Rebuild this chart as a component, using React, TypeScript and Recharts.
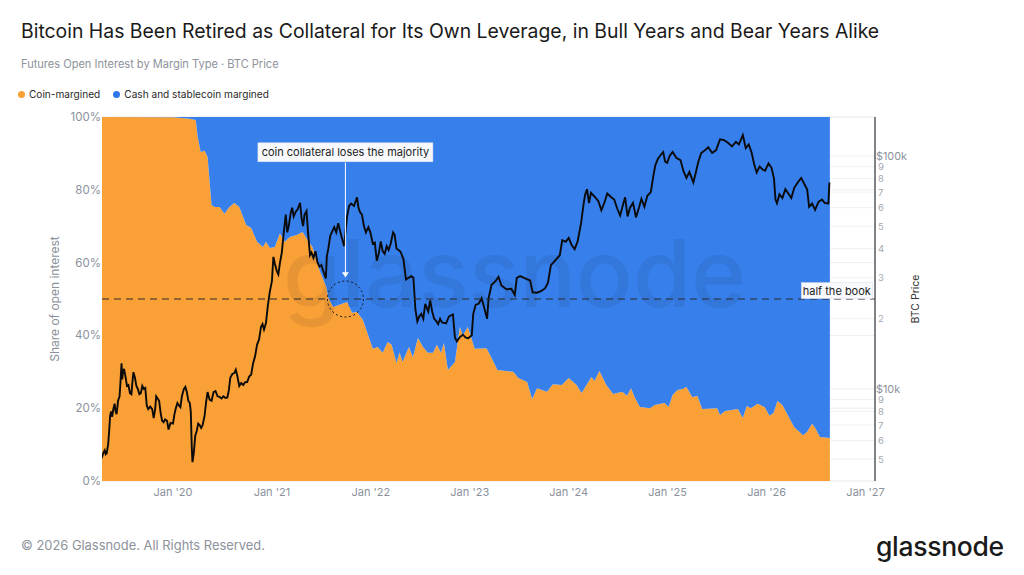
import { ComposedChart, Area, Line, XAxis, YAxis, CartesianGrid, ReferenceLine, ReferenceDot } from 'recharts';

const FONT = 'Inter, sans-serif';

// [year, coin-margined share in %]
const coinEarly = [[2019.28,100],[2020.0,99.9],[2020.17,99.5],[2020.23,99.2],[2020.25,94.5],[2020.28,90.4],[2020.32,90.7],[2020.35,89],[2020.39,75.8],[2020.42,75.3],[2020.47,75.3],[2020.52,73.4],[2020.57,75.3],[2020.62,76.4],[2020.67,75.3],[2020.74,70.3],[2020.79,69.5],[2020.85,65.7],[2020.91,64.3],[2020.94,65.7],[2020.98,64]];
const coin2021 = [[2021.03,64.3],[2021.08,68],[2021.13,65.7],[2021.18,67],[2021.25,67.6],[2021.31,68.4],[2021.36,66.2],[2021.41,64.3],[2021.48,58],[2021.55,53.3],[2021.57,50.3],[2021.62,47.8],[2021.76,49.2],[2021.81,46.2],[2021.86,46.4],[2021.92,44.2]];
const coin2022 = [[2022.02,36.3],[2022.07,36.8],[2022.12,35.2],[2022.17,38.2],[2022.21,37.4],[2022.26,32.4],[2022.29,35.4],[2022.32,32.7],[2022.385,36.8],[2022.425,34],[2022.476,39.3],[2022.527,36.8],[2022.577,35.2],[2022.628,35.2],[2022.668,37.4],[2022.708,35.2],[2022.739,37.9],[2022.779,30.5],[2022.85,32.7],[2022.9,42.3],[2022.93,40],[2022.98,42.3]];
const coin2023 = [[2023.05,36.3],[2023.17,36.5],[2023.22,33.8],[2023.28,30.5],[2023.44,30],[2023.49,28.3],[2023.58,27.2],[2023.63,22.5],[2023.68,25.5],[2023.78,24.5],[2023.84,26.6],[2023.93,26.4]];
const coin2024 = [[2024.0,28.3],[2024.08,26.4],[2024.13,24.2],[2024.23,28.6],[2024.26,27.5],[2024.31,30.2],[2024.38,26.4],[2024.45,23.9],[2024.54,24.5],[2024.59,23.4],[2024.63,25.5],[2024.67,22.8],[2024.72,20.3],[2024.82,20],[2024.87,20.9],[2024.97,21.4]];
const coin2025 = [[2025.01,20.3],[2025.05,23.6],[2025.1,25],[2025.15,25.3],[2025.19,25.8],[2025.25,23],[2025.3,23.4],[2025.35,19.8],[2025.5,20],[2025.53,18.1],[2025.58,19.2],[2025.71,19.8],[2025.76,17.3],[2025.8,20.6],[2025.84,20],[2025.91,21.2],[2025.98,20.3]];
const coin2026 = [[2026.03,17.9],[2026.07,18.7],[2026.11,22],[2026.16,20.9],[2026.23,17.3],[2026.28,14.8],[2026.37,12.6],[2026.41,13.5],[2026.46,15.7],[2026.49,14.6],[2026.54,12.1],[2026.64,11.8]];

// [year, BTC price in USD]
const price2019 = [[2019.28,5050],[2019.295,5300],[2019.31,5450],[2019.32,5250],[2019.33,5300],[2019.345,5800],[2019.355,6600],[2019.365,7700],[2019.375,8000],[2019.385,7600],[2019.395,8100],[2019.41,8650],[2019.42,8000],[2019.43,7800],[2019.445,8900],[2019.46,9300],[2019.47,10800],[2019.48,12900],[2019.487,11000],[2019.495,11800],[2019.505,12200],[2019.52,11300],[2019.535,10300],[2019.55,10400],[2019.565,9600],[2019.58,9500],[2019.59,10700],[2019.6,11800],[2019.615,11200],[2019.63,10300],[2019.645,10000],[2019.66,9500],[2019.675,9600],[2019.69,10300],[2019.705,10000],[2019.72,10100],[2019.735,8500],[2019.75,8200],[2019.77,8400],[2019.79,8200],[2019.805,7500],[2019.82,8200],[2019.83,9300],[2019.845,9100],[2019.86,8900],[2019.875,7900],[2019.89,7300],[2019.905,7200],[2019.92,7400],[2019.94,7300],[2019.955,6700],[2019.975,7150]];
const price2020 = [[2020.0,7100],[2020.015,7800],[2020.03,8300],[2020.045,8700],[2020.06,8500],[2020.075,8350],[2020.09,9300],[2020.11,10000],[2020.125,10200],[2020.14,9700],[2020.155,8900],[2020.17,8700],[2020.18,8000],[2020.19,5600],[2020.197,4850],[2020.21,5300],[2020.225,6300],[2020.24,6600],[2020.255,7100],[2020.27,7000],[2020.285,6800],[2020.3,7000],[2020.32,7700],[2020.335,8800],[2020.35,9700],[2020.37,9000],[2020.39,8900],[2020.41,9700],[2020.43,9800],[2020.45,9300],[2020.47,9250],[2020.49,9100],[2020.51,9300],[2020.53,9150],[2020.55,9200],[2020.565,9900],[2020.58,11200],[2020.6,11600],[2020.62,11700],[2020.635,12100],[2020.65,11400],[2020.67,10300],[2020.69,10600],[2020.71,10400],[2020.73,10700],[2020.75,10700],[2020.77,11300],[2020.79,11500],[2020.81,12900],[2020.83,13800],[2020.85,15500],[2020.87,16300],[2020.89,18500],[2020.905,19000],[2020.92,18000],[2020.94,19200],[2020.96,23000],[2020.98,26300]];
const price2021 = [[2021.0,29000],[2021.015,36900],[2021.03,34500],[2021.05,32000],[2021.065,31000],[2021.08,34500],[2021.1,38500],[2021.12,47000],[2021.14,56000],[2021.155,47000],[2021.17,50000],[2021.19,57000],[2021.205,60000],[2021.22,55000],[2021.24,57500],[2021.26,59000],[2021.285,63000],[2021.3,54000],[2021.315,50000],[2021.33,56000],[2021.35,58000],[2021.365,47000],[2021.385,37500],[2021.4,38500],[2021.42,36500],[2021.44,39000],[2021.46,35000],[2021.48,33500],[2021.5,34000],[2021.52,32000],[2021.545,29800],[2021.555,37000],[2021.57,40000],[2021.59,45500],[2021.61,47500],[2021.63,49500],[2021.65,47000],[2021.67,51500],[2021.69,47500],[2021.71,44000],[2021.73,41000],[2021.745,48000],[2021.76,55000],[2021.78,61000],[2021.8,62500],[2021.83,61000],[2021.86,66500],[2021.875,60000],[2021.89,57500],[2021.91,56000],[2021.93,50000],[2021.95,47000],[2021.975,49500],[2021.995,47000]];
const price2022 = [[2022.02,42000],[2022.04,42500],[2022.06,35500],[2022.08,38000],[2022.1,43000],[2022.12,39000],[2022.14,38000],[2022.16,41000],[2022.18,39500],[2022.2,42000],[2022.225,47000],[2022.24,46000],[2022.26,40000],[2022.28,39500],[2022.3,38800],[2022.33,36000],[2022.355,29500],[2022.38,30000],[2022.41,30500],[2022.43,30000],[2022.45,22000],[2022.47,19500],[2022.49,20500],[2022.51,21000],[2022.53,20000],[2022.55,23200],[2022.58,21500],[2022.6,24000],[2022.62,21500],[2022.64,20000],[2022.66,19600],[2022.68,19000],[2022.7,20000],[2022.72,19300],[2022.76,19100],[2022.79,20500],[2022.83,20900],[2022.85,16600],[2022.87,16000],[2022.9,16700],[2022.93,17100],[2022.96,16600],[2022.985,16500]];
const price2023 = [[2023.02,17000],[2023.035,21000],[2023.06,23000],[2023.09,23200],[2023.12,24500],[2023.15,22000],[2023.175,20000],[2023.19,24500],[2023.22,28000],[2023.26,29000],[2023.29,30300],[2023.32,27800],[2023.37,26800],[2023.42,26900],[2023.455,25300],[2023.475,30000],[2023.51,30500],[2023.56,29800],[2023.61,29200],[2023.635,26000],[2023.68,25900],[2023.72,26300],[2023.76,27000],[2023.79,28500],[2023.82,34000],[2023.86,35500],[2023.91,37500],[2023.935,43500],[2023.97,42800]];
const price2024 = [[2024.0,44500],[2024.03,41500],[2024.06,39800],[2024.09,43000],[2024.125,51500],[2024.15,62000],[2024.165,68000],[2024.185,72000],[2024.205,62800],[2024.225,69500],[2024.26,67000],[2024.3,64000],[2024.33,58500],[2024.36,63000],[2024.39,69000],[2024.43,66500],[2024.46,65000],[2024.49,59500],[2024.52,55500],[2024.55,62000],[2024.57,66500],[2024.595,55000],[2024.62,60000],[2024.65,63000],[2024.68,54500],[2024.71,60000],[2024.735,65500],[2024.765,60500],[2024.795,67500],[2024.83,70000],[2024.855,82000],[2024.875,91000],[2024.9,97000],[2024.93,101000],[2024.955,104000],[2024.975,94500],[2024.995,93500]];
const price2025 = [[2025.02,100000],[2025.05,104000],[2025.09,98000],[2025.13,96000],[2025.16,86000],[2025.19,80500],[2025.22,85500],[2025.26,77000],[2025.285,85000],[2025.31,94500],[2025.34,103000],[2025.38,106000],[2025.41,109000],[2025.45,103000],[2025.49,106000],[2025.53,118000],[2025.57,117000],[2025.61,114000],[2025.65,110000],[2025.69,115000],[2025.72,112000],[2025.76,123000],[2025.79,108000],[2025.82,112000],[2025.85,103000],[2025.875,92000],[2025.9,85000],[2025.93,90000],[2025.96,87500],[2025.985,86500]];
const price2026 = [[2026.02,93000],[2026.05,89000],[2026.075,80000],[2026.09,65000],[2026.105,62700],[2026.13,68500],[2026.16,66000],[2026.19,72000],[2026.22,69000],[2026.25,66000],[2026.28,73000],[2026.32,77500],[2026.35,80500],[2026.38,76000],[2026.41,72000],[2026.43,60500],[2026.46,62500],[2026.49,58700],[2026.525,63500],[2026.56,65000],[2026.59,62800],[2026.625,62500],[2026.635,77000]];

const yearTicks = [2020, 2021, 2022, 2023, 2024, 2025, 2026, 2027];
const shareTicks = [0, 20, 40, 60, 80, 100];
const priceTicks = [5000, 6000, 7000, 8000, 9000, 10000, 20000, 30000, 40000, 50000, 60000, 70000, 80000, 90000, 100000];

const shareRows = [...coinEarly, ...coin2021, ...coin2022, ...coin2023, ...coin2024, ...coin2025, ...coin2026].map(([year, coin]) => ({ year, coin, cash: 100 - coin }));
const priceRows = [...price2019, ...price2020, ...price2021, ...price2022, ...price2023, ...price2024, ...price2025, ...price2026].map(([year, price]) => ({ year, price }));

function priceLabel(v: number) {
  if (v === 100000) return '$100k';
  if (v === 10000) return '$10k';
  return String(v >= 10000 ? v / 10000 : v / 1000);
}

function PriceTick({ x, y, payload }: any) {
  const major = payload.value === 100000 || payload.value === 10000;
  return (
    <text x={major ? x - 1 : x + 1} y={y + (major ? 4 : 3.5)} fontFamily={FONT} fontSize={major ? 10.8 : 9.5} fill={major ? '#8b919c' : '#a3a8b0'}>
      {priceLabel(payload.value)}
    </text>
  );
}

function NoteBox({ cx, cy, w, h, text }: any) {
  return (
    <g>
      <rect x={cx - w / 2} y={cy - h / 2} width={w} height={h} fill="#f7f9fd" stroke="#d5dbe6" strokeWidth={0.5} />
      <text x={cx} y={cy + 4} textAnchor="middle" fontFamily={FONT} fontSize={11} fill="#222">{text}</text>
    </g>
  );
}

function ArrowHead({ cx, cy }: any) {
  return <path d={`M${cx - 3.5} ${cy - 5}L${cx + 3.5} ${cy - 5}L${cx} ${cy}Z`} fill="#fff" />;
}

function Dot({ color }: { color: string }) {
  return <span style={{ display: 'inline-block', width: 7, height: 7, borderRadius: 4, background: color, marginRight: 4 }} />;
}

export default function App() {
  return (
    <div style={{ position: 'absolute', left: 0, top: 0, width: 1024, height: 575, background: '#fff', fontFamily: FONT, overflow: 'hidden' }}>
      <div style={{ position: 'absolute', left: 21, top: 19, fontSize: 19.4, color: '#1a1a1a', whiteSpace: 'nowrap' }}>
        Bitcoin Has Been Retired as Collateral for Its Own Leverage, in Bull Years and Bear Years Alike
      </div>
      <div style={{ position: 'absolute', left: 21, top: 57, fontSize: 11.05, color: '#8d929b', whiteSpace: 'nowrap' }}>
        Futures Open Interest by Margin Type · BTC Price
      </div>
      <div style={{ position: 'absolute', left: 18, top: 88, fontSize: 10.1, color: '#2a2a2a', whiteSpace: 'nowrap' }}>
        <Dot color="#f9a036" />Coin-margined
        <span style={{ marginLeft: 13 }}><Dot color="#2f76e8" />Cash and stablecoin margined</span>
      </div>
      <ComposedChart width={1024} height={575} data={shareRows} margin={{ top: 117, right: 0, bottom: 64, left: 52 }} style={{ position: 'absolute', left: 0, top: 0 }}>
        <CartesianGrid yAxisId="left" vertical={false} stroke="#eeeeee" />
        <CartesianGrid yAxisId="right" vertical={false} stroke="#f1f1f1" />
        <XAxis
          dataKey="year"
          type="number"
          domain={[2019.2825, 2027.096]}
          allowDataOverflow
          ticks={yearTicks}
          tickFormatter={(v) => `Jan '${String(v).slice(2)}`}
          tick={{ fontSize: 11, fill: '#8b919c', fontFamily: FONT }}
          axisLine={false}
          tickLine={false}
          tickSize={5}
          height={30}
        />
        <YAxis
          yAxisId="left"
          width={50}
          domain={[0, 100]}
          ticks={shareTicks}
          tickFormatter={(v) => `${v}%`}
          tick={{ fontSize: 11.5, fill: '#8b919c', fontFamily: FONT }}
          axisLine={false}
          tickLine={false}
          tickSize={0}
          tickMargin={1}
        />
        <YAxis
          yAxisId="right"
          orientation="right"
          width={149}
          scale="log"
          domain={[4027, 147000]}
          allowDataOverflow
          ticks={priceTicks}
          interval={0}
          tick={<PriceTick />}
          axisLine={{ stroke: '#55585e', strokeWidth: 1.5 }}
          tickLine={false}
          tickSize={0}
          tickMargin={2}
        />
        <Area yAxisId="left" dataKey="coin" name="Coin-margined" stackId="share" type="linear" stroke="none" fill="#f9a036" fillOpacity={1} isAnimationActive={false} />
        <Area yAxisId="left" dataKey="cash" name="Cash and stablecoin margined" stackId="share" type="linear" stroke="none" fill="#377feb" fillOpacity={1} isAnimationActive={false} />
        <Line yAxisId="right" data={priceRows} dataKey="price" name="BTC Price" type="linear" stroke="#0b0b0b" strokeWidth={1.9} dot={false} isAnimationActive={false} />
        <ReferenceLine yAxisId="left" y={50} stroke="#2b2b2b" strokeWidth={1} strokeDasharray="7 5" />
        <ReferenceDot yAxisId="left" x={2021.743} y={50} r={18} fill="none" stroke="#111" strokeWidth={1} strokeDasharray="2 2.5" />
        <ReferenceLine yAxisId="left" segment={[{ x: 2021.743, y: 87.5 }, { x: 2021.743, y: 56 }]} stroke="#fff" strokeWidth={1} />
        <ReferenceDot yAxisId="left" x={2021.743} y={56} r={4} shape={<ArrowHead />} />
        <ReferenceDot yAxisId="left" x={2021.743} y={90.3} r={1} shape={(p: any) => <NoteBox {...p} w={175} h={19} text="coin collateral loses the majority" />} />
        <ReferenceDot yAxisId="left" x={2026.71} y={52.3} r={1} ifOverflow="visible" shape={(p: any) => <NoteBox {...p} w={71} h={16} text="half the book" />} />
      </ComposedChart>
      <div style={{ position: 'absolute', left: 283, top: 216, fontSize: 94, fontWeight: 500, color: 'rgba(30,30,40,0.08)', whiteSpace: 'nowrap', pointerEvents: 'none' }}>glassnode</div>
      <div style={{ position: 'absolute', left: 54, top: 299, width: 0, height: 0 }}>
        <div style={{ position: 'absolute', transform: 'translate(-50%,-50%) rotate(-90deg)', fontSize: 12, color: '#8b919c', whiteSpace: 'nowrap' }}>Share of open interest</div>
      </div>
      <div style={{ position: 'absolute', left: 915, top: 299, width: 0, height: 0 }}>
        <div style={{ position: 'absolute', transform: 'translate(-50%,-50%) rotate(-90deg)', fontSize: 10.5, color: '#333', whiteSpace: 'nowrap' }}>BTC Price</div>
      </div>
      <div style={{ position: 'absolute', left: 21, top: 538, fontSize: 12.9, color: '#8d929b', whiteSpace: 'nowrap' }}>© 2026 Glassnode. All Rights Reserved.</div>
      <div style={{ position: 'absolute', left: 876, top: 530, fontSize: 26.5, fontWeight: 500, color: '#1a1a1a', whiteSpace: 'nowrap', letterSpacing: -0.3 }}>glassnode</div>
    </div>
  );
}
